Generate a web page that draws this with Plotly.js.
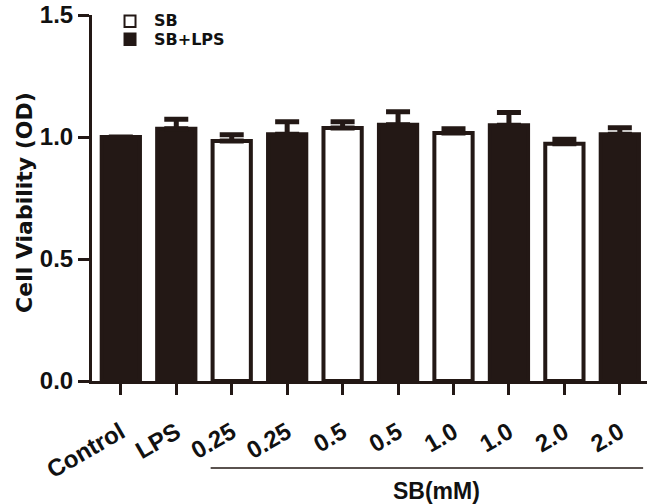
<!DOCTYPE html>
<html>
<head>
<meta charset="utf-8">
<script src="https://cdn.plot.ly/plotly-3.0.1.min.js"></script>
<style>
  html, body { margin: 0; padding: 0; background: #ffffff; }
  #chart { width: 653px; height: 504px; }
</style>
</head>
<body>
<div id="chart"></div>
<script>
// ---- data ----
const categories = ['Control', 'LPS', '0.25', '0.25', '0.5', '0.5', '1.0', '1.0', '2.0', '2.0'];
const controlLabels = ['Control', 'LPS'];
const controlValues = [1.00, 1.034];
const controlErr = [0, 0.039];
const sbDoses = ['0.25', '0.5', '1.0', '2.0'];
const sbValues = [0.984, 1.037, 1.016, 0.972];
const sbErr = [0.025, 0.025, 0.018, 0.019];
const sbLpsValues = [1.011, 1.050, 1.048, 1.011];
const sbLpsErr = [0.052, 0.053, 0.052, 0.027];
const seriesNames = ['SB', 'SB+LPS'];
const yTicks = [0, 0.5, 1.0, 1.5];

// category positions (index along the axis)
const pos = categories.map((c, i) => i);
const controlPos = [0, 1];
const sbPos = sbDoses.map((d, i) => 2 + 2 * i);
const sbLpsPos = sbDoses.map((d, i) => 3 + 2 * i);

const dark = '#231815';
const barW = 0.69;

function errSpec(arr) {
  return {
    type: 'data', array: arr, arrayminus: arr.map(() => 0), symmetric: false,
    color: dark, thickness: 5, width: 12, visible: true
  };
}

const traces = [
  { type: 'bar', x: controlPos, y: controlValues, width: barW, name: 'Control',
    marker: { color: dark, line: { color: dark, width: 4 } }, error_y: errSpec(controlErr) },
  { type: 'bar', x: sbPos, y: sbValues, width: barW, name: seriesNames[0],
    marker: { color: '#ffffff', line: { color: dark, width: 4 } }, error_y: errSpec(sbErr) },
  { type: 'bar', x: sbLpsPos, y: sbLpsValues, width: barW, name: seriesNames[1],
    marker: { color: dark, line: { color: dark, width: 4 } }, error_y: errSpec(sbLpsErr) }
];

const tickFont = { family: 'Arial, "Liberation Sans", sans-serif', size: 24, color: '#111111', weight: 'bold' };
const legendFont = { family: '"DejaVu Sans", sans-serif', size: 16, color: '#111111', weight: 'bold' };

// legend key (key box + label for each series)
const keyFills = ['#ffffff', dark];
const keyRows = [{ y0: 0.9672, y1: 0.9986, ty: 0.985 }, { y0: 0.918, y1: 0.9495, ty: 0.933 }];
const keyShapes = seriesNames.map((n, i) => ({
  type: 'rect', xref: 'paper', yref: 'paper', x0: 0.0586, x1: 0.0784,
  y0: keyRows[i].y0, y1: keyRows[i].y1, fillcolor: keyFills[i], line: { color: dark, width: 2 }
}));
const keyLabels = seriesNames.map((n, i) => ({
  text: n, xref: 'paper', yref: 'paper', x: 0.1099, y: keyRows[i].ty, borderpad: 0,
  xanchor: 'left', yanchor: 'middle', showarrow: false, font: legendFont
}));

const layout = {
  width: 653, height: 504,
  margin: { l: 92, r: 6, t: 15, b: 123, pad: 0 },
  paper_bgcolor: '#ffffff', plot_bgcolor: '#ffffff',
  barmode: 'overlay',
  showlegend: false,
  xaxis: {
    range: [-0.52, 9.49], tickmode: 'array', tickvals: pos, ticktext: categories,
    tickangle: -30, ticks: 'outside', ticklen: 11, tickwidth: 3, tickcolor: dark,
    ticklabelstandoff: 14, showline: true, linecolor: dark, linewidth: 3,
    showgrid: false, zeroline: false, tickfont: tickFont
  },
  yaxis: {
    range: [0, 1.5], tickmode: 'array', tickvals: yTicks, ticktext: yTicks.map(v => v.toFixed(1)),
    ticks: 'outside', ticklen: 11, tickwidth: 3, tickcolor: dark,
    showline: true, linecolor: dark, linewidth: 3, showgrid: false, zeroline: false, tickfont: tickFont
  },
  shapes: [
    { type: 'line', xref: 'x', yref: 'paper', x0: 1.62, x1: 9.42, y0: -0.238, y1: -0.238,
      line: { color: dark, width: 1.5 } }
  ].concat(keyShapes),
  annotations: [
    { text: 'Cell Viability (OD)', xref: 'paper', yref: 'paper', x: -0.1227, y: 0.489,
      xanchor: 'center', yanchor: 'middle', textangle: -90, showarrow: false,
      font: { family: '"DejaVu Sans", sans-serif', size: 22, color: '#111111', weight: 'bold' } },
    { text: 'SB(mM)', xref: 'x', yref: 'paper', x: 5.69, y: -0.30,
      xanchor: 'center', yanchor: 'middle', showarrow: false,
      font: { family: 'Arial, "Liberation Sans", sans-serif', size: 23, color: '#111111', weight: 'bold' } }
  ].concat(keyLabels)
};

Plotly.newPlot('chart', traces, layout, { displayModeBar: false, staticPlot: true });
</script>
</body>
</html>
